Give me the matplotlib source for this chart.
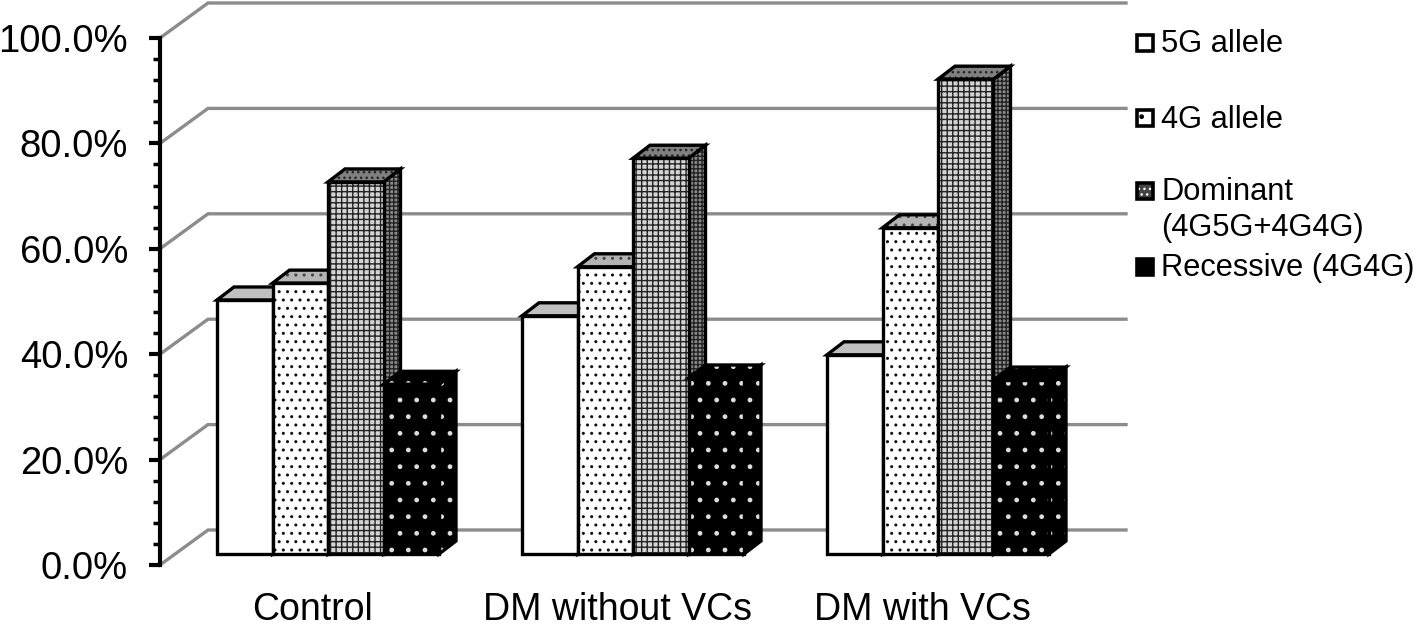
import matplotlib
matplotlib.use("Agg")
import matplotlib.pyplot as plt
from matplotlib.patches import Polygon, Rectangle
from matplotlib.ticker import MultipleLocator, PercentFormatter

plt.rcParams['font.family'] = ['Liberation Sans', 'DejaVu Sans']
plt.rcParams['hatch.linewidth'] = 1.0

categories = ["Control", "DM without VCs", "DM with VCs"]
series = ["5G allele", "4G allele", "Dominant\n(4G5G+4G4G)", "Recessive (4G4G)"]
allele_5g = [48.2, 45.2, 37.8]
allele_4g = [51.4, 54.5, 61.9]
dominant = [70.6, 75.1, 90.1]
recessive = [32.2, 33.4, 33.0]
values = [allele_5g, allele_4g, dominant, recessive]

W, H = 1418, 627
fig = plt.figure(figsize=(W / 100, H / 100), dpi=100)
ax = fig.add_axes([160 / W, (H - 565) / H, 915 / W, 527 / H])
ax.set_xlim(-0.5, 2.5)
ax.set_ylim(0, 100)

# fake 3D offsets, in data units (px / scale)
ux = 305.0
uy = 5.27
wall_dx, wall_dy = 48 / ux, 35 / uy
plane_dx, plane_dy = 15.5 / ux, 11 / uy
deep_dx, deep_dy = 17 / ux, 13 / uy
bar_w = 55.5 / ux

# back wall gridlines
for v in range(0, 101, 20):
    ax.plot([-0.5, -0.5 + wall_dx, 2.5 + 51 / ux], [v, v + wall_dy, v + wall_dy],
            color='#8c8c8c', lw=2.4, clip_on=False, zorder=1, solid_joinstyle='miter')

styles = [
    dict(front=('white', None, 'white'), top=('#c0c0c0', None, 'white'), side=('#c0c0c0', None, 'white')),
    dict(front=('white', '..', '#111111'), top=('#b4b4b4', '..', '#444444'), side=('#999999', '..', 'black')),
    dict(front=('#d4d4d4', '+++', '#222222'), top=('#808080', '...', '#222222'), side=('#8a8a8a', '++++', '#222222')),
    dict(front=('black', '.', '#dddddd'), top=('black', '.', '#dddddd'), side=('black', '.', '#dddddd')),
]


def face(pts, style, z):
    fc, hatch, hc = style
    ax.add_patch(Polygon(pts, closed=True, facecolor=fc, edgecolor=hc if hatch else fc,
                         hatch=hatch, lw=0, clip_on=False, zorder=z))
    ax.add_patch(Polygon(pts, closed=True, fill=False, edgecolor='black', lw=2.4,
                         clip_on=False, zorder=z + 0.1, joinstyle='miter'))


z = 3
for c in range(len(categories)):
    for s, vals in enumerate(values):
        x0 = c + (s - 2) * bar_w + plane_dx
        x1 = x0 + bar_w
        y0 = plane_dy
        y1 = vals[c] + plane_dy
        st = styles[s]
        face([(x1, y0), (x1 + deep_dx, y0 + deep_dy), (x1 + deep_dx, y1 + deep_dy), (x1, y1)], st['side'], z)
        face([(x0, y1), (x1, y1), (x1 + deep_dx, y1 + deep_dy), (x0 + deep_dx, y1 + deep_dy)], st['top'], z + 0.2)
        face([(x0, y0), (x1, y0), (x1, y1), (x0, y1)], st['front'], z + 0.4)
        z += 1

# axes
for name in ['top', 'right', 'bottom']:
    ax.spines[name].set_visible(False)
ax.spines['left'].set_linewidth(3)
ax.patch.set_visible(False)
ax.yaxis.set_major_locator(MultipleLocator(20))
ax.yaxis.set_minor_locator(MultipleLocator(4))
ax.yaxis.set_major_formatter(PercentFormatter(decimals=1))
ax.tick_params(axis='y', which='major', length=8, width=3, labelsize=27.5, pad=15)
ax.tick_params(axis='y', which='minor', length=5, width=2.5)
ax.set_xticks(range(len(categories)))
ax.set_xticklabels(categories, fontsize=27)
ax.tick_params(axis='x', length=0, pad=19.5)


def fx(px):
    return px / W


def fy(py):
    return 1 - py / H


# legend
legend_y = [43, 118, 191, 267]
text_y = [44, 120, 210, 268]
swatch = [('white', None, 'black'), ('white', '.', 'black'), ('#444444', '...', 'white'), ('black', None, 'black')]
for i, name in enumerate(series):
    fc, hatch, hc = swatch[i]
    fig.add_artist(Rectangle((fx(1137), fy(legend_y[i] + 8)), 16 / W, 16 / H, transform=fig.transFigure,
                             facecolor=fc, edgecolor=hc, lw=0, hatch=hatch))
    fig.add_artist(Rectangle((fx(1137), fy(legend_y[i] + 8)), 16 / W, 16 / H, transform=fig.transFigure,
                             fill=False, edgecolor='black', lw=2.6))
    fig.text(fx(1161), fy(text_y[i]), name, fontsize=22.2, va='center', ha='left', linespacing=1.25)

fig.savefig('out.png', dpi=100)
